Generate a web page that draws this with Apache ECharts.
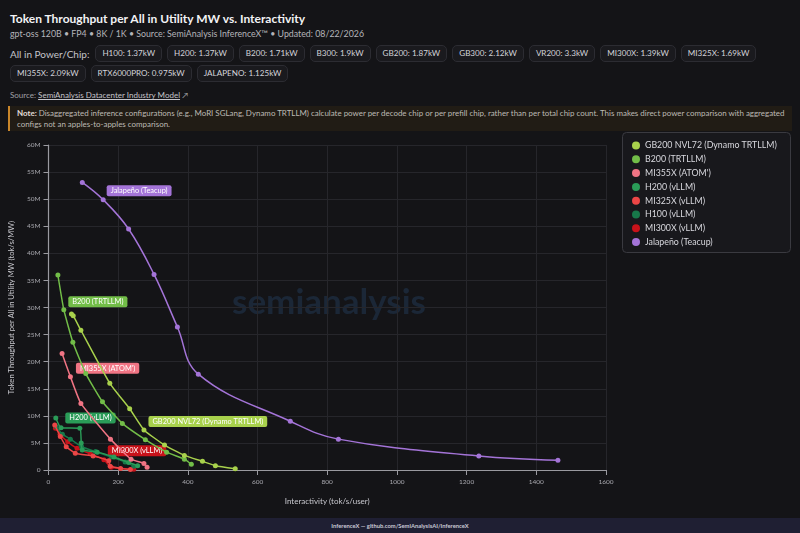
<!DOCTYPE html>
<html><head><meta charset="utf-8">
<script src="https://cdn.jsdelivr.net/npm/echarts@6/dist/echarts.min.js"></script>
<style>
html,body{margin:0;padding:0;width:800px;height:533px;background:#141417;overflow:hidden;font-family:"Lato","Noto Sans",sans-serif;color:#e8e8ea;}
#hdr{position:absolute;left:10px;top:0;width:785px;}
#title{position:absolute;left:0;top:11px;font-size:12px;font-weight:700;white-space:nowrap;color:#f2f2f4;}
#sub{position:absolute;left:0;top:28px;font-size:8.8px;color:#b4b4ba;white-space:nowrap;}
.row{position:absolute;left:0;display:flex;align-items:center;gap:5px;white-space:nowrap;}
.lbl{font-size:10px;color:#c4c4ca;margin-right:1px;}
.pill{height:15px;line-height:15px;padding:0 6px;border:1px solid #2c2c32;border-radius:5px;background:#1a1a1e;font-size:8.1px;color:#d4d4da;}
#src{position:absolute;left:0;top:90px;font-size:8px;color:#a0a0a6;white-space:nowrap;}
#src u{color:#c4c4ca;}
#note{position:absolute;left:8px;top:106px;width:784px;height:25px;background:#211c15;border-left:2px solid #c9862a;box-sizing:border-box;padding:2px 0 0 7px;font-size:7.95px;line-height:10.8px;color:#bdbab4;white-space:nowrap;}
#note b{color:#e0ddd6;}
#chart{position:absolute;left:0;top:130px;width:800px;height:388px;}
#foot{position:absolute;left:0;top:518px;width:800px;height:15px;background:#1f1f33;text-align:center;font-size:5.8px;line-height:15px;color:#c8c8d4;font-weight:700;}
</style></head>
<body>
<div id="hdr">
  <div id="title">Token Throughput per All in Utility MW vs. Interactivity</div>
  <div id="sub">gpt-oss 120B • FP4 • 8K / 1K • Source: SemiAnalysis InferenceX™ • Updated: 08/22/2026</div>
  <div class="row" id="row1" style="top:45px;"></div>
  <div class="row" id="row2" style="top:65px;"></div>
  <div id="src">Source: <u>SemiAnalysis Datacenter Industry Model</u> &#x2197;</div>
</div>
<div id="note"><b>Note:</b> Disaggregated inference configurations (e.g., MoRI SGLang, Dynamo TRTLLM) calculate power per decode chip or per prefill chip, rather than per total chip count. This makes direct power comparison with aggregated<br>configs not an apples-to-apples comparison.</div>
<div id="chart"></div>
<div id="foot">InferenceX — github.com/SemiAnalysisAI/InferenceX</div>
<script>
// ---- data ----
const powerRow1 = ["H100: 1.37kW","H200: 1.37kW","B200: 1.71kW","B300: 1.9kW","GB200: 1.87kW","GB300: 2.12kW","VR200: 3.3kW","MI300X: 1.39kW","MI325X: 1.69kW"];
const powerRow2 = ["MI355X: 2.09kW","RTX6000PRO: 0.975kW","JALAPENO: 1.125kW"];

const seriesNames = ["GB200 NVL72 (Dynamo TRTLLM)","B200 (TRTLLM)","MI355X (ATOM')","H200 (vLLM)","MI325X (vLLM)","H100 (vLLM)","MI300X (vLLM)","Jalapeño (Teacup)"];
const seriesColors = ["#a8d14c","#72bd48","#f07484","#2a9c58","#ec4646","#17784a","#c8121a","#a474d8"];

// [interactivity tok/s/user, throughput M tok/s/MW]
const gb200 = [[66,28.8],[71,28.5],[93,25.8],[176,16.0],[233,11.3],[274,7.4],[333,4.6],[390,2.7],[442,1.6],[479,0.8],[536,0.25]];
const b200  = [[27,36.0],[44,29.6],[70,23.6],[107,17.8],[155,12.6],[212,8.6],[278,5.6],[339,3.3],[390,2.0],[410,1.05]];
const mi355x = [[39,21.5],[63,17.2],[93,12.3],[178,5.7],[237,2.0],[274,1.2],[283,0.5]];
const h200 = [[21,9.6],[36,7.8],[90,7.7],[94,5.0],[97,3.7],[140,3.3],[188,2.4],[230,1.4],[256,0.8]];
const mi325x = [[18,8.3],[34,6.2],[51,4.3],[77,3.1],[128,2.6],[173,1.7],[177,0.7],[207,0.3],[235,0.1]];
const h100 = [[22,8.0],[40,6.6],[63,5.7],[95,4.3],[135,3.4],[180,2.4],[220,1.5],[245,0.7]];
const mi300x = [[20,7.7],[33,6.6],[55,5.2],[82,4.0],[120,3.0],[159,1.9],[180,0.5],[245,0.15]];
const jalapeno = [[97,53.1],[157,49.9],[230,44.5],[303,36.1],[370,26.4],[430,17.7],[694,9.0],[832,5.7],[1235,2.6],[1462,1.8]];

const xTicks = {min:0,max:1600,interval:200};
const yTicks = {min:0,max:60,interval:5};

// ---- header pills ----
function fillRow(id, items, label){
  const r=document.getElementById(id);
  if(label){const s=document.createElement('span');s.className='lbl';s.textContent=label;r.appendChild(s);}
  items.forEach(t=>{const p=document.createElement('span');p.className='pill';p.textContent=t;r.appendChild(p);});
}
fillRow('row1',powerRow1,'All in Power/Chip:');
fillRow('row2',powerRow2,null);

// ---- chart ----
const allData=[gb200,b200,mi355x,h200,mi325x,h100,mi300x,jalapeno];
// label anchor: [point index, distance, offsetY]
const labelAnchor=[[5,2,-8.5],[1,2,-8],[1,3,-8.5],[0,7,0],null,null,[4,15,-3],[1,1,-9]];

const series=allData.map((d,si)=>{
  const a=labelAnchor[si];
  const data=d.map((p,i)=>{
    if(a && i===a[0]){
      return {value:p,label:{show:true,position:'right',distance:a[1],offset:[0,a[2]],formatter:seriesNames[si],
        backgroundColor:seriesColors[si],color:'#ffffff',fontSize:7.4,fontFamily:'Lato',padding:[2,4,2,4],borderRadius:2}};
    }
    return p;
  });
  return {name:seriesNames[si],type:'line',data:data,smooth:si===7?0.4:0.15,
    symbol:'circle',symbolSize:5,showSymbol:true,
    lineStyle:{width:1.5,color:seriesColors[si]},itemStyle:{color:seriesColors[si]},
    z:si===7?2:10-si};
});

const chart=echarts.init(document.getElementById('chart'),null,{renderer:'canvas'});
chart.setOption({
  backgroundColor:'transparent',
  animation:false,
  textStyle:{fontFamily:'Lato'},
  grid:{left:48,right:194,top:15,bottom:48},
  graphic:[
    {type:'rect',left:622,top:2,shape:{width:168,height:120,r:4},style:{fill:'#18181c',stroke:'#3a3a40',lineWidth:1},z:-1},
    {type:'text',left:232,top:155,z:0,style:{text:'semianalysis',font:'bold 35px Lato',fill:'rgba(40,75,115,0.35)'}}
  ],
  legend:{orient:'vertical',left:627,top:6,itemGap:4.8,itemWidth:8,itemHeight:8,icon:'circle',
    textStyle:{color:'#d8d8de',fontSize:8.8,fontFamily:'Lato'},data:seriesNames},
  xAxis:{type:'value',min:xTicks.min,max:xTicks.max,interval:xTicks.interval,
    name:'Interactivity (tok/s/user)',nameLocation:'middle',nameGap:27,
    nameTextStyle:{color:'#c8c8ce',fontSize:8},
    axisLine:{lineStyle:{color:'#9a9aa0',width:1.2}},axisTick:{show:true,lineStyle:{color:'#9a9aa0'}},
    axisLabel:{color:'#a8a8ae',fontSize:6.5,formatter:v=>String(v)},splitLine:{lineStyle:{color:'#26262b'}}},
  yAxis:{type:'value',min:yTicks.min,max:yTicks.max,interval:yTicks.interval,
    name:'Token Throughput per All in Utility MW (tok/s/MW)',nameLocation:'middle',nameGap:26,
    nameTextStyle:{color:'#c8c8ce',fontSize:7.6},
    axisLine:{show:true,lineStyle:{color:'#9a9aa0',width:1.2}},axisTick:{show:true,lineStyle:{color:'#9a9aa0'}},
    axisLabel:{color:'#a8a8ae',fontSize:6.5,formatter:v=>v===0?'0':v+'M'},splitLine:{lineStyle:{color:'#26262b'}}},
  series:series
});
</script>
</body></html>
